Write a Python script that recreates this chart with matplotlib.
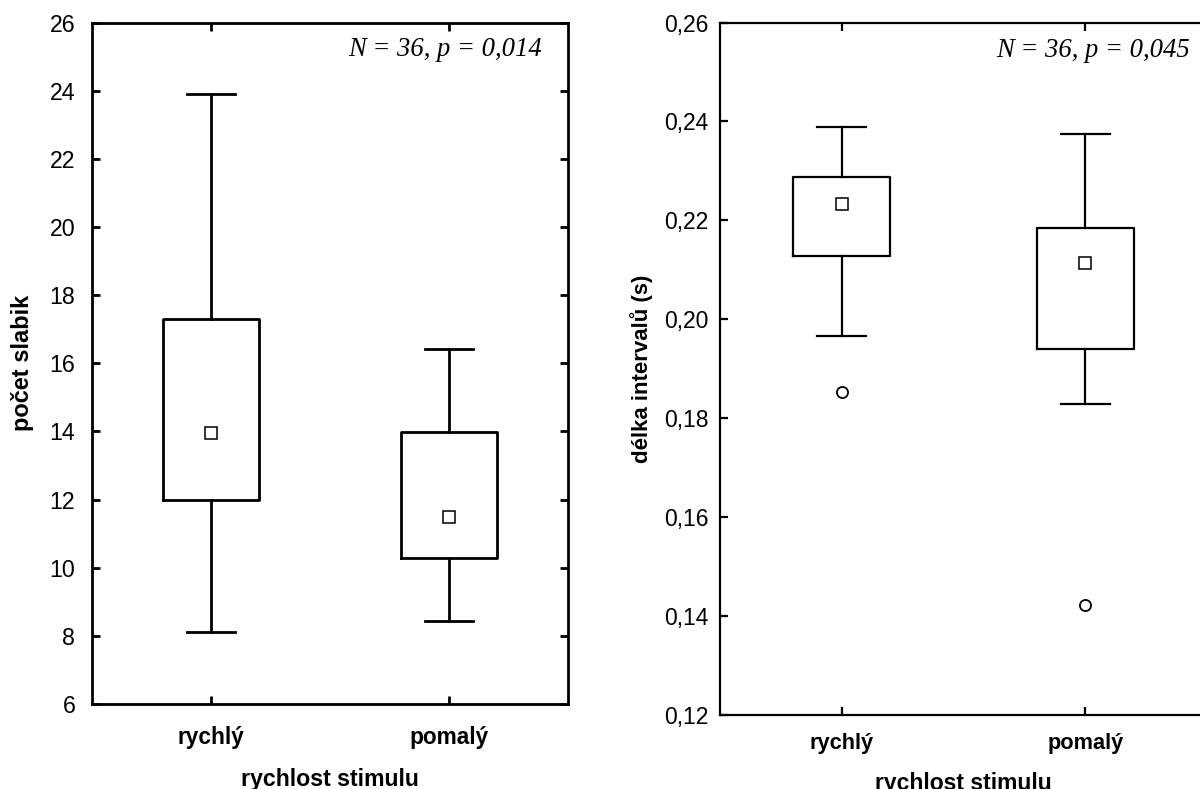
import matplotlib
matplotlib.use("Agg")
import matplotlib.pyplot as plt
from matplotlib.ticker import FuncFormatter

categories = ["rychlý", "pomalý"]

# Left panel: počet slabik
left_whislo = [8.10, 8.45]
left_q1 = [11.99, 10.29]
left_mean = [13.94, 11.48]
left_q3 = [17.31, 13.98]
left_whishi = [23.90, 16.42]
left_fliers = [[], []]
left_note = "N = 36, p = 0,014"
left_yticks = [6, 8, 10, 12, 14, 16, 18, 20, 22, 24, 26]

# Right panel: délka intervalů (s)
right_whislo = [0.1967, 0.1829]
right_q1 = [0.2127, 0.1940]
right_mean = [0.2234, 0.2114]
right_q3 = [0.2288, 0.2185]
right_whishi = [0.2388, 0.2375]
right_fliers = [[0.1854], [0.1423]]
right_note = "N = 36, p = 0,045"
right_yticks = [0.12, 0.14, 0.16, 0.18, 0.20, 0.22, 0.24, 0.26]

plt.rcParams['font.family'] = ['Liberation Sans', 'DejaVu Sans']

fig = plt.figure(figsize=(12, 7.89), dpi=100)

def make_stats(wl, q1, mn, q3, wh, fl):
    stats = []
    for i in range(len(wl)):
        stats.append(dict(whislo=wl[i], q1=q1[i], med=mn[i], mean=mn[i],
                          q3=q3[i], whishi=wh[i], fliers=fl[i], label=categories[i]))
    return stats

def draw(ax, stats, lw, ylim, yticks, fmt, ylabel, note, fs, note_x,
         xpad, ypad, xlabpad, right_ticks=True):
    ax.bxp(stats, positions=[0, 1], widths=0.4, capwidths=0.2,
           showmeans=True, showfliers=True, patch_artist=False,
           boxprops=dict(color='black', linewidth=lw),
           whiskerprops=dict(color='black', linewidth=lw),
           capprops=dict(color='black', linewidth=lw),
           medianprops=dict(linewidth=0, color='none'),
           meanprops=dict(marker='s', markerfacecolor='white', markeredgecolor='black',
                          markersize=8.5, markeredgewidth=1.1),
           flierprops=dict(marker='o', markerfacecolor='white', markeredgecolor='black',
                           markersize=8, markeredgewidth=1.3))
    ax.set_xlim(-0.5, 1.5)
    ax.set_ylim(*ylim)
    ax.set_yticks(yticks)
    ax.yaxis.set_major_formatter(FuncFormatter(fmt))
    ax.set_xticks([0, 1])
    ax.set_xticklabels(categories)
    ax.tick_params(axis='both', direction='in', length=6, width=lw,
                   top=True, right=right_ticks)
    ax.tick_params(axis='x', labelsize=fs['cat'], pad=xpad)
    ax.tick_params(axis='y', labelsize=fs['tick'], pad=ypad)
    for lab in ax.get_xticklabels():
        lab.set_fontweight('bold')
    for s in ax.spines.values():
        s.set_linewidth(lw)
    ax.set_xlabel("rychlost stimulu", fontsize=fs['xlab'], fontweight='bold', labelpad=xlabpad)
    ax.set_ylabel(ylabel, fontsize=fs['ylab'], fontweight='bold')
    ax.text(note_x, 0.978, note, transform=ax.transAxes, ha='right', va='top',
            fontsize=fs['note'], style='italic', family='Liberation Serif')

ax1 = fig.add_axes([92/1200, (789-704)/789, 476/1200, 681.5/789])
draw(ax1, make_stats(left_whislo, left_q1, left_mean, left_q3, left_whishi, left_fliers),
     2.0, (6, 26), left_yticks, lambda v, p: f"{v:.0f}", "počet slabik", left_note,
     dict(cat=16.3, tick=16.7, xlab=16.7, ylab=17.0, note=19.2), 0.945,
     xpad=15.5, ypad=12, xlabpad=14)
ax1.yaxis.set_label_coords(-0.122, 0.5)

ax2 = fig.add_axes([720/1200, (789-715)/789, 487/1200, 692.5/789])
draw(ax2, make_stats(right_whislo, right_q1, right_mean, right_q3, right_whishi, right_fliers),
     1.6, (0.12, 0.26), right_yticks, lambda v, p: f"{v:.2f}".replace('.', ','),
     "délka intervalů (s)", right_note,
     dict(cat=15.7, tick=16.5, xlab=16.5, ylab=16.0, note=19.2), 0.966,
     xpad=13, ypad=8.5, xlabpad=13, right_ticks=False)
ax2.yaxis.set_label_coords(-0.137, 0.5)

fig.savefig("out.png", dpi=100)
